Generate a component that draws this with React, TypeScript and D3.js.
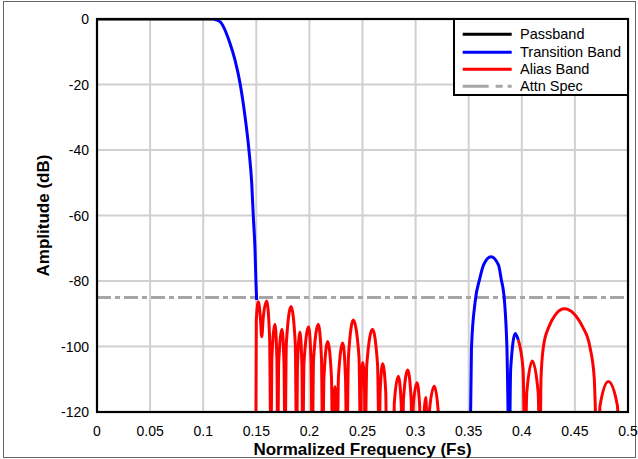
import React from "react";
import * as d3 from "d3";

// ---- data ----
const xTicks = [0, 0.05, 0.1, 0.15, 0.2, 0.25, 0.3, 0.35, 0.4, 0.45, 0.5];
const xTickLabels = ["0", "0.05", "0.1", "0.15", "0.2", "0.25", "0.3", "0.35", "0.4", "0.45", "0.5"];
const yTicks = [0, -20, -40, -60, -80, -100, -120];
const yTickLabels = ["0", "-20", "-40", "-60", "-80", "-100", "-120"];

const attnSpecDb = -85;

const passbandF = [0, 0.1095];
const passbandDb = [0, 0];

const transition1F = [0.1095, 0.1158, 0.1252, 0.1299, 0.1347, 0.1394, 0.1431, 0.1457, 0.1472, 0.1488, 0.1497, 0.1503];
const transition1Db = [0, -0.8, -7.4, -12.5, -19.6, -29.8, -40.1, -50.2, -60.4, -70.5, -80.7, -85.8];

const alias1F = [
  0.1495, 0.1500, 0.1519, 0.1538, 0.1551, 0.1566, 0.1598, 0.1625, 0.1638,
  0.1646, 0.1676, 0.1694, 0.1702,
  0.1710, 0.1742, 0.1761, 0.1770,
  0.1783, 0.1827, 0.1867, 0.1880,
  0.1887, 0.1911, 0.1930, 0.1937,
  0.1949, 0.1993, 0.2016, 0.2027,
  0.2039, 0.2084, 0.2114, 0.2125,
  0.2137, 0.2172, 0.2208, 0.2219,
  0.2241, 0.2263,
  0.2273, 0.2314, 0.2340, 0.2351,
  0.2368, 0.2413, 0.2467, 0.2483,
  0.2488, 0.2502, 0.2519, 0.2524,
  0.2540, 0.2594, 0.2642, 0.2658,
  0.2666, 0.2690, 0.2719, 0.2728,
  0.2790,
  0.2800, 0.2837, 0.2864, 0.2875,
  0.2886, 0.2926, 0.2958, 0.2969,
  0.2978, 0.3013, 0.3038, 0.3048,
  0.3095, 0.3120,
  0.3132, 0.3176, 0.3211, 0.3223,
];
const alias1Db = [
  -135, -92, -86.3, -91, -97, -91, -86.1, -97, -135,
  -104, -93.2, -104, -135,
  -105.5, -94.7, -105.5, -135,
  -99, -87.8, -99, -135,
  -106.5, -95.6, -106.5, -135,
  -105, -94, -105, -135,
  -104, -93.2, -104, -135,
  -109.5, -98.5, -109.5, -135,
  -112.3, -135,
  -109.5, -98.9, -109.5, -135,
  -103, -91.9, -103, -135,
  -113, -104.9, -113, -135,
  -105.7, -94.7, -105.7, -135,
  -114, -105.3, -114, -135,
  -135,
  -117, -109.1, -117, -135,
  -116, -107.2, -116, -135,
  -118, -111.1, -118, -135,
  -115.6, -135,
  -119, -112.1, -119, -135,
];

const transition2F = [0.3512, 0.3526, 0.3560, 0.3605, 0.3640, 0.3710, 0.3780, 0.3805, 0.3838, 0.3860, 0.3882, 0.3895, 0.3939, 0.3967];
const transition2Db = [-135, -100.6, -86.5, -79.2, -75.1, -72.6, -75.1, -79.2, -86.5, -100.6, -135, -107, -96, -98];

const alias2F = [
  0.3967, 0.4012, 0.4030,
  0.4047, 0.4099, 0.4154, 0.4171,
  0.4181, 0.4203, 0.4250, 0.4400, 0.4579, 0.4642, 0.4682, 0.4712,
  0.4737, 0.4815, 0.4900, 0.4925, 0.5,
];
const alias2Db = [
  -98, -107, -135,
  -114, -104.4, -114, -135,
  -109.7, -100.2, -94.4, -88.5, -94.4, -100.2, -109.7, -135,
  -118, -110.7, -118, -135, -135,
];

const legendLabels = ["Passband", "Transition Band", "Alias Band", "Attn Spec"];
const legendColors = ["#000000", "#0000ff", "#ff0000", "#a6a6a6"];

const W = 638;
const H = 459;
const left = 97, right = 628, top = 19, bottom = 412;
const FONT = "'Liberation Sans', Arial, Helvetica, sans-serif";

function zip(f: number[], db: number[]): [number, number][] {
  return f.map((v, i) => [v, db[i]]);
}

export default function App() {
  const x = d3.scaleLinear().domain([0, 0.5]).range([left, right]);
  const y = d3.scaleLinear().domain([-120, 0]).range([bottom, top]);
  const line = d3
    .line<[number, number]>()
    .x((d) => x(d[0]))
    .y((d) => y(d[1]))
    .curve(d3.curveMonotoneX);

  const series = [
    { d: zip(passbandF, passbandDb), c: legendColors[0] },
    { d: zip(transition1F, transition1Db), c: legendColors[1] },
    { d: zip(transition2F, transition2Db), c: legendColors[1] },
    { d: zip(alias1F, alias1Db), c: legendColors[2] },
    { d: zip(alias2F, alias2Db), c: legendColors[2] },
  ];

  const legX = 454, legY = 19, legW = right - 454, legH = 76;
  const legRowY = [34.3, 52.3, 69.3, 86.3];

  return (
    <svg
      width={W}
      height={H}
      style={{ position: "absolute", left: 0, top: 0, background: "#fff" }}
      fontFamily={FONT}
    >
      <rect x={0} y={0} width={W} height={H} fill="#fff" />
      <rect x={3.5} y={1.5} width={632} height={456} fill="none" stroke="#666" strokeWidth={1} />
      <defs>
        <clipPath id="plotClip">
          <rect x={left} y={top} width={right - left} height={bottom - top} />
        </clipPath>
      </defs>
      {/* grid */}
      {xTicks.map((t, i) => (
        <line key={"gx" + i} x1={x(t)} x2={x(t)} y1={top} y2={bottom} stroke="#d0d0d0" strokeWidth={2} />
      ))}
      {yTicks.map((t, i) => (
        <line key={"gy" + i} x1={left} x2={right} y1={y(t)} y2={y(t)} stroke="#d0d0d0" strokeWidth={2} />
      ))}
      {/* attn spec */}
      <line
        x1={x(0)}
        x2={x(0.5)}
        y1={y(attnSpecDb)}
        y2={y(attnSpecDb)}
        stroke={legendColors[3]}
        strokeWidth={3}
        strokeDasharray="14,4,5,4"
      />
      <g clipPath="url(#plotClip)">
        {series.map((s, i) => (
          <path key={"s" + i} d={line(s.d) || ""} fill="none" stroke={s.c} strokeWidth={3} strokeLinejoin="round" />
        ))}
      </g>
      {/* frame */}
      <rect x={left} y={top} width={right - left} height={bottom - top} fill="none" stroke="#000" strokeWidth={2.2} />
      {/* tick labels */}
      {xTicks.map((t, i) => (
        <text key={"tx" + i} x={x(t)} y={435.5} textAnchor="middle" fontSize={14} fill="#000">
          {xTickLabels[i]}
        </text>
      ))}
      {yTicks.map((t, i) => (
        <text key={"ty" + i} x={89} y={y(t) + 5} textAnchor="end" fontSize={14} fill="#000">
          {yTickLabels[i]}
        </text>
      ))}
      {/* axis titles */}
      <text x={(left + right) / 2} y={455} textAnchor="middle" fontSize={17} fontWeight="bold" fill="#000">
        Normalized Frequency (Fs)
      </text>
      <text
        transform={`translate(49, ${(top + bottom) / 2}) rotate(-90)`}
        textAnchor="middle"
        fontSize={17}
        fontWeight="bold"
        fill="#000"
      >
        Amplitude (dB)
      </text>
      {/* legend */}
      <rect x={legX} y={legY} width={legW} height={legH} fill="#fff" stroke="#000" strokeWidth={2} />
      {legendLabels.map((lab, i) => (
        <g key={"lg" + i}>
          <line
            x1={462.7}
            x2={511.7}
            y1={legRowY[i]}
            y2={legRowY[i]}
            stroke={legendColors[i]}
            strokeWidth={3}
            strokeDasharray={i === 3 ? "26,7,7,5,5,50" : undefined}
          />
          <text x={520} y={legRowY[i] + 5} fontSize={14.5} fill="#000">
            {lab}
          </text>
        </g>
      ))}
    </svg>
  );
}
